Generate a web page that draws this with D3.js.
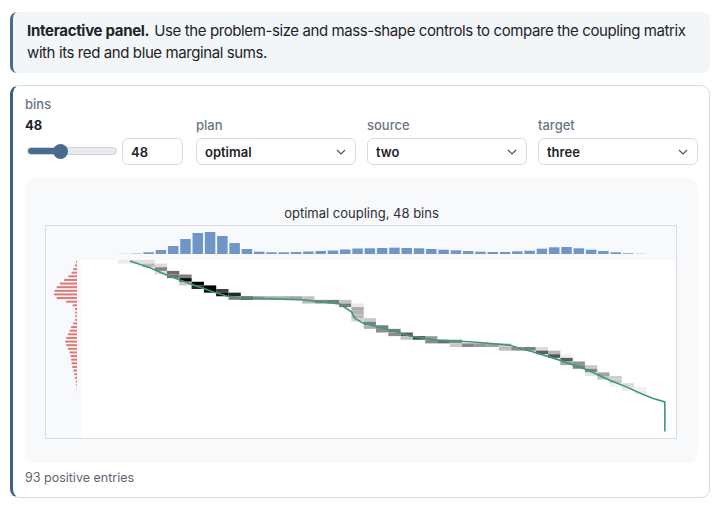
<!DOCTYPE html>
<html>
<head>
<meta charset="utf-8">
<script src="https://cdn.jsdelivr.net/npm/d3@7"></script>
<style>
  html, body { margin: 0; padding: 0; background: #fff; }
  body { width: 720px; height: 509px; position: relative; font-family: Inter, "Noto Sans", sans-serif; color: #1f2328; overflow: hidden; }
  .abs { position: absolute; }
  .note { left: 10px; top: 12px; width: 700px; height: 61px; box-sizing: border-box;
          background: #f3f6f9; border-left: 3px solid #4d6a8a; border-radius: 7px;
          padding: 8px 10px 0 14px; font-size: 15px; line-height: 22px; letter-spacing: -0.4px; }
  .note b { display: inline-block; font-weight: 700; letter-spacing: -0.3px; margin-right: 5px; }
  .panel { left: 10px; top: 85px; width: 700px; height: 413px; box-sizing: border-box;
           border: 1px solid #d8dde3; border-left: 3px solid #3f5f82; border-radius: 9px; background: #fff; }
  .lbl { font-size: 13px; line-height: 16px; color: #6b7684; font-weight: 500; }
  .val { font-size: 13px; line-height: 16px; font-weight: 700; color: #1f2328; }
  .box { box-sizing: border-box; height: 27px; border: 1px solid #d8dde3; border-radius: 6px; background: #fff;
         font-family: inherit; font-size: 13px; font-weight: 600; color: #1f2328; padding: 0 0 0 8px; margin: 0; }
  select.box { -webkit-appearance: none; appearance: none; width: 160px;
    background: #fff url("data:image/svg+xml,%3Csvg xmlns='http://www.w3.org/2000/svg' width='10' height='6'%3E%3Cpath d='M1 1l4 4 4-4' fill='none' stroke='%23555' stroke-width='1.2'/%3E%3C/svg%3E") no-repeat right 9px center; }
  input[type=range] { -webkit-appearance: none; appearance: none; margin: 0; height: 8px; border-radius: 4px;
    border: 1px solid #cfd4da; box-sizing: border-box; }
  input[type=range]::-webkit-slider-thumb { -webkit-appearance: none; width: 15px; height: 15px; border-radius: 50%;
    background: #4a6a8f; border: none; }
  .chartbox { left: 25px; top: 178px; width: 673px; height: 285px; background: #f8f9fb; border-radius: 10px; }
  .foot { left: 25px; top: 470px; font-size: 12.5px; line-height: 16px; color: #5d6672; }
</style>
</head>
<body>
<div class="abs note"><b>Interactive panel.</b>Use the problem-size and mass-shape controls to compare the coupling matrix with its red and blue marginal sums.</div>
<div class="abs panel"></div>

<div class="abs lbl" style="left:25px;top:96px">bins</div>
<div class="abs val" style="left:25px;top:117px" id="binsVal">48</div>
<input class="abs" id="binsRange" type="range" min="8" max="124" value="48" style="left:27px;top:147px;width:90px">
<input class="abs box" type="text" value="48" style="left:122px;top:138px;width:61px">

<div class="abs lbl" style="left:196px;top:117px">plan</div>
<select class="abs box" style="left:196px;top:138px"><option>optimal</option></select>
<div class="abs lbl" style="left:367px;top:117px">source</div>
<select class="abs box" style="left:367px;top:138px"><option>two</option></select>
<div class="abs lbl" style="left:538px;top:117px">target</div>
<select class="abs box" style="left:538px;top:138px"><option>three</option></select>

<div class="abs chartbox"><svg id="chart" width="673" height="285"></svg></div>
<div class="abs foot" id="foot">93 positive entries</div>

<script>
// values (marginal bar lengths, px-ish units)
const nBins = 48;
const planName = "optimal";
const positiveEntries = 93;

// source marginal (blue, top) per column
const sourceMass = [
  0, 0, 0, 0.15, 0.4, 1.7, 4, 8, 15, 21, 22, 18, 11, 5, 2.3, 1.7,
  1.7, 2, 2.5, 3, 3.5, 4.5, 5.5, 5.7, 6, 6.3, 6, 5.7, 5, 4.3, 3.7, 3,
  2.3, 2, 2, 2.7, 3.3, 5.3, 6.7, 7, 5.7, 4.3, 3, 1.7, 0.7, 0.2, 0, 0
];

// target marginal (red, left) per row
const targetMass = [
  1, 2, 3.5, 5, 8, 12, 16, 19, 21, 21.5, 19, 10, 4, 2, 1.7, 1.5,
  1.7, 3.5, 5.5, 7, 8.5, 10, 11, 10, 8.5, 7, 6, 5.5, 5, 4.5, 3.5, 2.5,
  2, 1, 0.6, 0.3, 0.15, 0, 0, 0, 0, 0, 0, 0, 0, 0, 0, 0
];

// transport map curve, [column position, row position]
const mapCurve = [
  [3.98, 0.28], [5.61, 2.13], [6.97, 4.14], [8.05, 5.52], [9.41, 7.18], [10.73, 8.76],
  [11.85, 9.94], [12.93, 10.41], [15.61, 10.77], [18.35, 11.05], [19.43, 11.52], [21.06, 12.15],
  [22.0, 14.28], [22.28, 16.02], [22.93, 17.4], [24.85, 19.06], [26.75, 20.99], [28.92, 22.1],
  [31.63, 22.57], [34.88, 23.48], [35.69, 24.39], [36.75, 25.33], [38.94, 27.62], [41.11, 30.19],
  [43.01, 33.15], [44.37, 35.0], [45.69, 37.02], [46.5, 38.12], [47.5, 39.14], [47.5, 47.3]
];

(function draw() {
  const svg = d3.select("#chart");
  const W = 673;

  // range slider fill
  const rng = document.getElementById("binsRange");
  const f = (rng.value - rng.min) / (rng.max - rng.min);
  const fillPx = 7 + f * (90 - 15);
  rng.style.background = `linear-gradient(to right, #4a6a8f 0, #4a6a8f ${fillPx}px, #e8eaed ${fillPx}px)`;

  const frame = { x: 20, y: 47, w: 632, h: 214 };
  const mat = { x: 56, y: 82, w: 590, h: 174 };

  const x = d3.scaleLinear().domain([0, nBins]).range([mat.x, mat.x + mat.w]);
  const y = d3.scaleLinear().domain([0, nBins]).range([mat.y, mat.y + mat.h]);
  const bw = x(1) - x(0), rh = y(1) - y(0);

  // normalised marginals + monotone (north-west corner) coupling, optimal in 1-D
  const sa = d3.sum(sourceMass), sb = d3.sum(targetMass);
  const a = sourceMass.map(v => v / sa), b = targetMass.map(v => v / sb);
  const ra = a.slice(), rb = b.slice();
  const cells = [];
  let i = 0, j = 0;
  while (i < nBins && j < nBins) {
    if (ra[j] <= 1e-12) { j++; continue; }
    if (rb[i] <= 1e-12) { i++; continue; }
    const m = Math.min(ra[j], rb[i]);
    cells.push({ row: i, col: j, v: m });
    ra[j] -= m; rb[i] -= m;
  }

  svg.append("text")
    .attr("x", W / 2).attr("y", 35)
    .attr("text-anchor", "middle").attr("dominant-baseline", "central")
    .attr("font-size", 13).attr("fill", "#2b2f36")
    .text(`${planName} coupling, ${nBins} bins`);

  svg.append("rect")
    .attr("x", frame.x + 0.5).attr("y", frame.y + 0.5)
    .attr("width", frame.w - 1).attr("height", frame.h - 1)
    .attr("fill", "#f7f9fc").attr("stroke", "#d9dee5");

  svg.append("rect")
    .attr("x", mat.x).attr("y", mat.y)
    .attr("width", frame.x + frame.w - 1 - mat.x).attr("height", frame.y + frame.h - 1 - mat.y)
    .attr("fill", "#ffffff");

  // top marginal (blue)
  const hTop = d3.scaleLinear().domain([0, d3.max(a)]).range([0, 22]);
  const baseTop = 76;
  svg.append("g").selectAll("rect")
    .data(a)
    .join("rect")
      .attr("x", (d, k) => x(k) + 0.9)
      .attr("width", bw - 1.8)
      .attr("y", d => baseTop - hTop(d))
      .attr("height", d => hTop(d))
      .attr("fill", "#7096c8");

  // left marginal (red)
  const wLeft = d3.scaleLinear().domain([0, d3.max(b)]).range([0, 23]);
  const baseLeft = 52;
  svg.append("g").selectAll("rect")
    .data(b)
    .join("rect")
      .attr("x", d => baseLeft - wLeft(d))
      .attr("width", d => wLeft(d))
      .attr("y", (d, k) => y(k) + (rh - 2) / 2)
      .attr("height", 2)
      .attr("fill", "#dc7a73");

  // coupling cells
  const vmax = d3.max(cells, d => d.v);
  const shade = d3.scaleSqrt().domain([0, 0.75 * vmax]).range([0.03, 1]).clamp(true);
  svg.append("g").selectAll("rect")
    .data(cells)
    .join("rect")
      .attr("x", d => x(d.col))
      .attr("y", d => y(d.row))
      .attr("width", bw)
      .attr("height", rh)
      .attr("fill", d => d3.interpolateGreys(shade(d.v)));

  // transport map curve
  svg.append("path")
    .datum(mapCurve)
    .attr("d", d3.line().x(d => x(d[0])).y(d => y(d[1])))
    .attr("fill", "none")
    .attr("stroke", "#3a9a78")
    .attr("stroke-width", 1.6);

  d3.select("#foot").text(`${positiveEntries} positive entries`);
})();
</script>
</body>
</html>
